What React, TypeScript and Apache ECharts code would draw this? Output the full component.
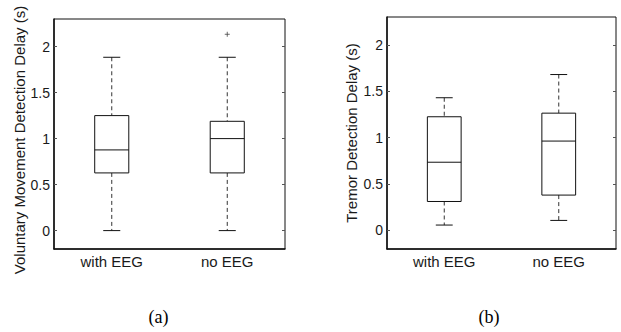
import React, { useEffect, useRef } from "react";
import * as echarts from "echarts";

// ---- data ----
const categories = ["with EEG", "no EEG"];
const tickValues = [0, 0.5, 1, 1.5, 2];

// panel (a): Voluntary movement detection delay
const aLow = [0, 0];
const aQ1 = [0.627, 0.627];
const aMedian = [0.877, 1.0];
const aQ3 = [1.25, 1.188];
const aHigh = [1.884, 1.884];
const aOutliers: [number, number][] = [[1, 2.134]];

// panel (b): Tremor detection delay
const bLow = [0.058, 0.108];
const bQ1 = [0.312, 0.381];
const bMedian = [0.735, 0.963];
const bQ3 = [1.225, 1.264];
const bHigh = [1.43, 1.68];
const bOutliers: [number, number][] = [];

const TEXT = "#1a1a1a";
const FONT = "Liberation Sans";

function boxData(low: number[], q1: number[], med: number[], q3: number[], high: number[]) {
  return categories.map((_, i) => [i, low[i], q1[i], med[i], q3[i], high[i]]);
}

function renderBox(params: any, api: any) {
  const i = api.value(0);
  const band = api.size([1, 0])[0];
  const boxW = band * 0.295;
  const capW = boxW / 2;
  const pLow = api.coord([i, api.value(1)]);
  const pQ1 = api.coord([i, api.value(2)]);
  const pMed = api.coord([i, api.value(3)]);
  const pQ3 = api.coord([i, api.value(4)]);
  const pHigh = api.coord([i, api.value(5)]);
  const cx = pMed[0];
  const solid = { stroke: "#111", lineWidth: 1, fill: "none" };
  const dashed = { stroke: "#333", lineWidth: 1, lineDash: [4, 3], fill: "none" };
  return {
    type: "group",
    children: [
      { type: "line", shape: { x1: cx, y1: pHigh[1], x2: cx, y2: pQ3[1] }, style: dashed },
      { type: "line", shape: { x1: cx, y1: pQ1[1], x2: cx, y2: pLow[1] }, style: dashed },
      { type: "line", shape: { x1: cx - capW / 2, y1: pHigh[1], x2: cx + capW / 2, y2: pHigh[1] }, style: solid },
      { type: "line", shape: { x1: cx - capW / 2, y1: pLow[1], x2: cx + capW / 2, y2: pLow[1] }, style: solid },
      {
        type: "rect",
        shape: { x: cx - boxW / 2, y: pQ3[1], width: boxW, height: pQ1[1] - pQ3[1] },
        style: { stroke: "#111", lineWidth: 1, fill: "#fff" },
      },
      { type: "line", shape: { x1: cx - boxW / 2, y1: pMed[1], x2: cx + boxW / 2, y2: pMed[1] }, style: solid },
    ],
  };
}

function xAxisFor(gridIndex: number) {
  return {
    type: "category",
    gridIndex,
    data: categories,
    position: "bottom",
    axisLine: { show: true, onZero: false, lineStyle: { color: "#111", width: 1.5 } },
    axisTick: { show: false },
    axisLabel: { color: TEXT, fontSize: 15, fontFamily: FONT, margin: 5 },
    splitLine: { show: false },
  };
}

function yAxisLeft(gridIndex: number, name: string, nameGap: number, namePadding: number[]) {
  return {
    type: "value",
    gridIndex,
    min: -0.2,
    max: 2.3,
    position: "left",
    name,
    nameLocation: "middle",
    nameGap,
    nameTextStyle: { color: TEXT, fontSize: 15, fontFamily: FONT, padding: namePadding },
    axisLine: { show: true, onZero: false, lineStyle: { color: "#111", width: 1.5 } },
    axisTick: { show: true, inside: true, length: 3, lineStyle: { color: "#555" }, customValues: tickValues },
    axisLabel: { color: TEXT, fontSize: 14, fontFamily: FONT, margin: 4, customValues: tickValues },
    splitLine: { show: false },
  };
}

function yAxisRight(gridIndex: number) {
  return {
    type: "value",
    gridIndex,
    min: -0.2,
    max: 2.3,
    position: "right",
    axisLine: { show: false, onZero: false },
    axisTick: { show: true, inside: true, length: 3, lineStyle: { color: "#555" }, customValues: tickValues },
    axisLabel: { show: false, customValues: tickValues },
    splitLine: { show: false },
  };
}

const plusSymbol = "path://M0,5 L10,5 M5,0 L5,10";

export default function App() {
  const ref = useRef<HTMLDivElement>(null);
  useEffect(() => {
    if (!ref.current) return;
    const chart = echarts.init(ref.current, null, { renderer: "svg" });
    chart.setOption({
      animation: false,
      backgroundColor: "#fff",
      grid: [
        { left: 54, top: 19, width: 231, height: 230, show: true, borderColor: "#111", borderWidth: 1, backgroundColor: "transparent" },
        { left: 387, top: 17, width: 229, height: 232, show: true, borderColor: "#111", borderWidth: 1, backgroundColor: "transparent" },
      ],
      xAxis: [xAxisFor(0), xAxisFor(1)],
      yAxis: [
        yAxisLeft(0, "Voluntary Movement Detection Delay (s)", 26, [0, 12, 0, 0]),
        yAxisRight(0),
        yAxisLeft(1, "Tremor Detection Delay (s)", 28, [0, 0, 0, 0]),
        yAxisRight(1),
      ],
      graphic: [
        { type: "text", x: 158.5, y: 316.5, style: { text: "(a)", fontSize: 18, fontFamily: "Liberation Serif", fill: "#000", align: "center", verticalAlign: "middle" } },
        { type: "text", x: 489, y: 316.5, style: { text: "(b)", fontSize: 18, fontFamily: "Liberation Serif", fill: "#000", align: "center", verticalAlign: "middle" } },
      ],
      series: [
        {
          type: "custom",
          xAxisIndex: 0,
          yAxisIndex: 0,
          renderItem: renderBox,
          encode: { x: 0, y: [1, 2, 3, 4, 5] },
          data: boxData(aLow, aQ1, aMedian, aQ3, aHigh),
          z: 3,
        },
        {
          type: "scatter",
          xAxisIndex: 0,
          yAxisIndex: 0,
          symbol: plusSymbol,
          symbolSize: 5,
          itemStyle: { color: "transparent", borderColor: "#444", borderWidth: 1 },
          data: aOutliers,
          z: 4,
        },
        {
          type: "custom",
          xAxisIndex: 1,
          yAxisIndex: 2,
          renderItem: renderBox,
          encode: { x: 0, y: [1, 2, 3, 4, 5] },
          data: boxData(bLow, bQ1, bMedian, bQ3, bHigh),
          z: 3,
        },
        {
          type: "scatter",
          xAxisIndex: 1,
          yAxisIndex: 2,
          symbol: plusSymbol,
          symbolSize: 5,
          itemStyle: { color: "transparent", borderColor: "#444", borderWidth: 1 },
          data: bOutliers,
          z: 4,
        },
      ],
    });
    return () => chart.dispose();
  }, []);
  return (
    <div
      ref={ref}
      style={{ position: "fixed", left: 0, top: 0, width: 621, height: 332, background: "#fff" }}
    />
  );
}
